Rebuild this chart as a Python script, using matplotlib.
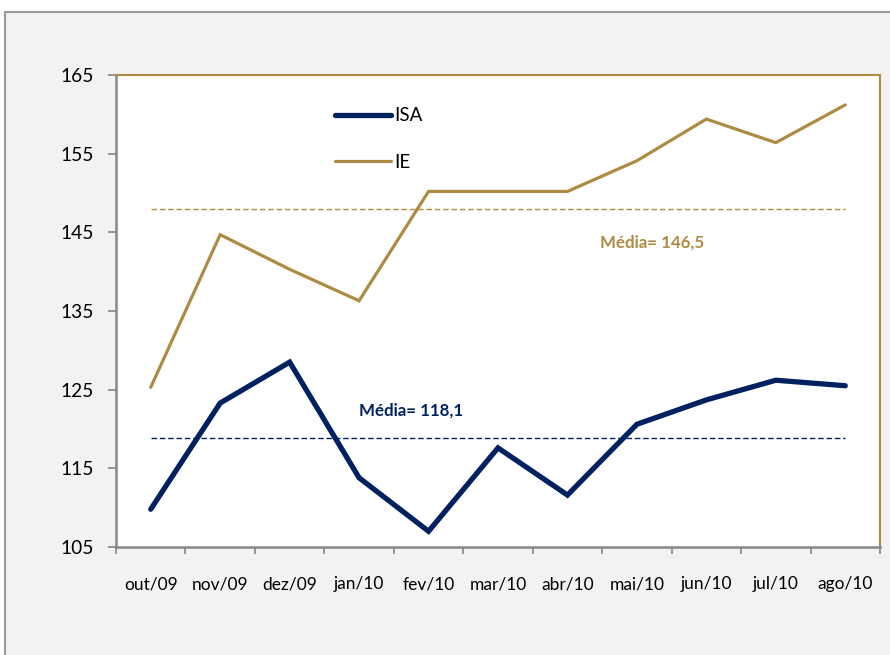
import matplotlib
matplotlib.use("Agg")
import matplotlib.pyplot as plt
from matplotlib.patches import Rectangle
import numpy as np

months = ["out/09", "nov/09", "dez/09", "jan/10", "fev/10", "mar/10",
          "abr/10", "mai/10", "jun/10", "jul/10", "ago/10"]
isa = [109.8, 123.3, 128.5, 113.8, 107.0, 117.6, 111.6, 120.6, 123.7, 126.2, 125.5]
ie = [125.3, 144.7, 140.3, 136.3, 150.2, 150.2, 150.2, 154.1, 159.4, 156.4, 161.2]
isa_mean_line = 118.9
ie_mean_line = 148.0
isa_label = "Média= 118,1"
ie_label = "Média= 146,5"
yticks = [105, 115, 125, 135, 145, 155, 165]

NAVY = "#00215F"
GOLD = "#AE8B42"
GRAY = "#878787"

plt.rcParams['font.family'] = ['Lato', 'DejaVu Sans']

fig = plt.figure(figsize=(8.9, 6.55), dpi=100, facecolor="white")
bg = Rectangle((5/890, -0.1), 1.2, (655-12)/655 + 0.1,
               transform=fig.transFigure, facecolor="#F2F2F2",
               edgecolor="#9A9A9A", linewidth=1.5, zorder=-10)
fig.add_artist(bg)

ax = fig.add_axes([116/890, 1-547/655, (880-116)/890, (547-75)/655])
ax.set_zorder(1)
ax.set_facecolor("white")

x = np.arange(len(months)) + 0.5
ax.plot(x, isa, color=NAVY, lw=3.8, solid_capstyle="round", solid_joinstyle="miter", label="ISA", zorder=3)
ax.plot(x, ie, color=GOLD, lw=2.3, solid_capstyle="round", solid_joinstyle="miter", label="IE", zorder=3)
ax.plot([x[0], x[-1]], [isa_mean_line]*2, color=NAVY, lw=1.0, ls=(0, (4, 2)), zorder=2)
ax.plot([x[0], x[-1]], [ie_mean_line]*2, color=GOLD, lw=1.0, ls=(0, (4, 2)), zorder=2)

ax.text(3.5, 122.3, isa_label, color=NAVY, fontsize=12.2, fontweight="bold", va="center", ha="left")
ax.text(6.97, 143.7, ie_label, color=GOLD, fontsize=12.2, fontweight="bold", va="center", ha="left")

ax.set_xlim(0, len(months))
ax.set_ylim(105, 165)
ax.set_yticks(yticks)
ax.set_yticklabels([str(v) for v in yticks], fontsize=13.8)
ax.set_xticks(np.arange(len(months)+1))
ax.set_xticklabels([])
ax.set_xticks(x, minor=True)
ax.set_xticklabels(months, minor=True, fontsize=12.5)
ax.tick_params(axis="x", which="minor", length=0, pad=21)
ax.tick_params(axis="x", which="major", length=5, width=1.2, color=GRAY, direction="out")
ax.tick_params(axis="y", length=6, width=1.2, color=GRAY, direction="out", pad=10)

for s in ["left", "bottom"]:
    ax.spines[s].set_color(GRAY)
    ax.spines[s].set_linewidth(1.8)
for s in ["top", "right"]:
    ax.spines[s].set_color(GOLD)
    ax.spines[s].set_linewidth(1.5)

leg = ax.legend(loc="upper left", bbox_to_anchor=(0.264, 0.967), frameon=False,
                fontsize=13.5, handlelength=3.0, handletextpad=0.2, labelspacing=1.55)

fig.savefig("out.png", dpi=100, facecolor=fig.get_facecolor())
